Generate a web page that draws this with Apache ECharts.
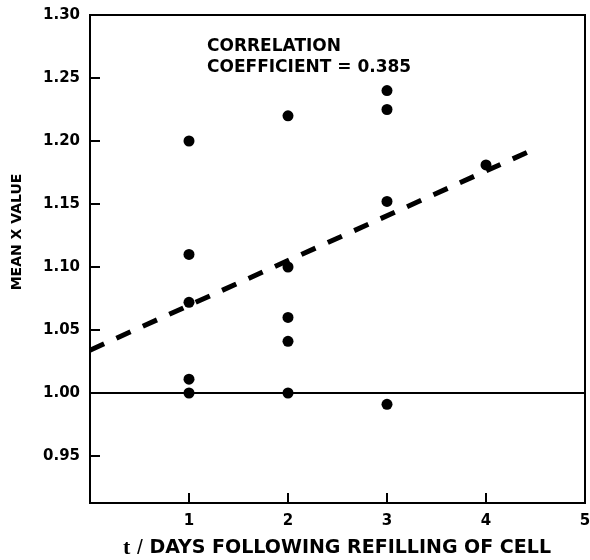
<!DOCTYPE html>
<html>
<head>
<meta charset="utf-8">
<script src="https://cdn.jsdelivr.net/npm/echarts@6/dist/echarts.min.js"></script>
<style>
  html, body { margin: 0; padding: 0; background: #fff; }
  #chart { width: 590px; height: 560px; }
</style>
</head>
<body>
<div id="chart"></div>
<script>
// Days after refilling the cell, and the mean X value measured on each day
const days = [1, 1, 1, 1, 1, 2, 2, 2, 2, 2, 3, 3, 3, 3, 4];
const meanX = [1.20, 1.11, 1.072, 1.011, 1.00,
               1.220, 1.100, 1.060, 1.041, 1.00,
               1.240, 1.225, 1.152, 0.991, 1.181];

// Least-squares trend line end points
const fitDays = [0, 4.43];
const fitValues = [1.034, 1.1915];

// Reference level
const baseline = 1.00;

// Axis ticks
const yTicks = [0.95, 1.00, 1.05, 1.10, 1.15, 1.20, 1.25, 1.30];
const xTicks = [1, 2, 3, 4, 5];

const annotation = ['CORRELATION', 'COEFFICIENT = 0.385'];

const chart = echarts.init(document.getElementById('chart'), null, { renderer: 'canvas' });
const FONT = '"DejaVu Sans", "Liberation Sans", Arial, sans-serif';

chart.setOption({
  animation: false,
  backgroundColor: '#fff',
  grid: {
    left: 90, right: 5, top: 15, bottom: 57,
    outerBoundsMode: 'none', containLabel: false,
    show: true, borderColor: '#000', borderWidth: 2, backgroundColor: 'transparent'
  },
  xAxis: {
    type: 'value', min: 0, max: 5, interval: 1,
    axisLine: { show: true, onZero: false, lineStyle: { color: '#000', width: 2 } },
    axisTick: { show: true, inside: true, length: 10, lineStyle: { color: '#000', width: 2 } },
    axisLabel: {
      show: true, margin: 11, color: '#000',
      fontFamily: FONT, fontWeight: 'bold', fontSize: 15,
      customValues: xTicks,
      formatter: v => String(v)
    },
    splitLine: { show: false }
  },
  yAxis: {
    type: 'value', min: 0.9127, max: 1.30,
    axisLine: { show: true, onZero: false, lineStyle: { color: '#000', width: 2 } },
    axisTick: { show: true, inside: true, length: 10, lineStyle: { color: '#000', width: 2 }, customValues: yTicks },
    axisLabel: {
      show: true, margin: 10, color: '#000',
      fontFamily: FONT, fontWeight: 'bold', fontSize: 15,
      customValues: yTicks,
      formatter: v => v.toFixed(2)
    },
    splitLine: { show: false }
  },
  series: [
    {
      name: 'baseline', type: 'line', silent: true, symbol: 'none',
      data: [[0, baseline], [5, baseline]],
      lineStyle: { color: '#000', width: 2 }
    },
    {
      name: 'trend', type: 'line', silent: true, symbol: 'none',
      data: fitDays.map((d, i) => [d, fitValues[i]]),
      lineStyle: { color: '#000', width: 5, type: [15.5, 13.5], cap: 'butt' }
    },
    {
      name: 'mean X', type: 'scatter', symbol: 'circle', symbolSize: 11,
      data: days.map((d, i) => [d, meanX[i]]),
      itemStyle: { color: '#000', opacity: 1 }
    }
  ],
  graphic: [
    {
      type: 'text', left: 207, top: 36,
      style: {
        text: annotation.join('\n'), fill: '#000',
        fontFamily: FONT, fontWeight: 'bold', fontSize: 17, lineHeight: 21
      }
    },
    {
      type: 'text', x: 17, y: 232, rotation: Math.PI / 2,
      style: {
        text: 'MEAN X VALUE', fill: '#000',
        fontFamily: FONT, fontWeight: 'bold', fontSize: 14,
        align: 'center', verticalAlign: 'middle'
      }
    },
    {
      type: 'text', x: 337, y: 548,
      style: {
        text: '{t|t} {s|/} DAYS FOLLOWING REFILLING OF CELL',
        fill: '#000', fontFamily: FONT, fontWeight: 'bold', fontSize: 19,
        align: 'center', verticalAlign: 'middle',
        rich: {
          t: { fontFamily: '"Liberation Serif", "DejaVu Serif", serif', fontWeight: 'bold', fontSize: 22, fill: '#000' },
          s: { fontFamily: '"Liberation Sans", sans-serif', fontWeight: 'normal', fontSize: 21, fill: '#000' }
        }
      }
    }
  ]
});
</script>
</body>
</html>
